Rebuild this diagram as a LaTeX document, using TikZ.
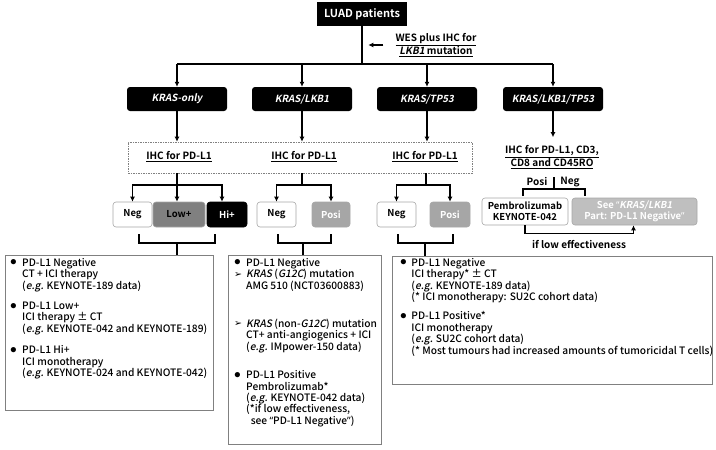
\documentclass[tikz,border=0pt]{standalone}
\usepackage{fontspec}
\setmainfont{Noto Sans CJK SC Medium}[
  BoldFont={Noto Sans CJK SC Bold},
  ItalicFont={Noto Sans CJK SC Medium},
  ItalicFeatures={FakeSlant=0.2},
  BoldItalicFont={Noto Sans CJK SC Bold},
  BoldItalicFeatures={FakeSlant=0.2}]
\newfontfamily\symfont{DejaVu Sans}
\newfontfamily\quotefont{Noto Sans}
\usetikzlibrary{arrows.meta}

\newcommand{\bul}[1][12pt]{\makebox[#1][l]{\raisebox{0.3pt}{\scalebox{1.35}{$\bullet$}}}}
\newcommand{\arw}[1][12pt]{\makebox[#1][l]{\raisebox{0.5pt}{\symfont\fontsize{9.5}{9.5}\selectfont ➢}}}
\newcommand{\ind}[1][12pt]{\hspace*{#1}}
\newcommand{\oq}{{\quotefont “}}
\newcommand{\cq}{{\quotefont ”}}

\begin{document}
\begin{tikzpicture}[x=1pt, y=-1pt,
  line/.style={line width=1.5pt},
  arr/.style={line, -{Latex[length=5pt,width=5pt]}},
  labtxt/.style={font=\bfseries\fontsize{10}{12.5}\selectfont, inner sep=1pt},
  bodytxt/.style={font=\fontsize{10.2}{11.4}\selectfont, align=left, inner sep=0pt, anchor=north west},
  topbox/.style={fill=black, text=white, font=\bfseries\fontsize{11}{12}\selectfont,
    minimum width=90pt, minimum height=24pt, inner sep=0pt},
  catbox/.style={fill=black, text=white, rounded corners=3pt, font=\bfseries\itshape\fontsize{9.8}{11}\selectfont,
    minimum width=100pt, minimum height=24pt, inner sep=0pt},
  smallbox/.style={rounded corners=3pt, draw=gray!70, line width=0.6pt, font=\bfseries\fontsize{9.5}{11}\selectfont,
    minimum height=25pt, inner sep=0pt},
  negbox/.style={smallbox, fill=white},
  lowbox/.style={smallbox, fill=gray, text=black},
  hibox/.style={smallbox, fill=black, draw=black, text=white},
  posibox/.style={smallbox, fill=gray!70, text=white},
  seebox/.style={smallbox, fill=gray!50, text=white, align=center},
  dashbox/.style={draw=gray, dash pattern=on 1.5pt off 1pt, line width=0.6pt, inner sep=0pt},
  resbox/.style={draw=gray, line width=0.8pt, inner sep=0pt, anchor=north west}
]
\useasboundingbox (0,0) rectangle (716,450);

% top of the tree
\node (luad) [topbox] at (362,14) {LUAD patients};
\coordinate (split) at (362,64);
\draw[line] (luad) -- (split);
\node (wes) [labtxt, align=center] at (436,45) {\underline{WES plus IHC for}\\\underline{\textit{LKB1} mutation}};
\draw[arr] ([xshift=-11pt]wes.west) -- ([xshift=-26pt]wes.west);

% genotype groups
\node (kras) [catbox] at (177,99) {KRAS-only};
\node (klkb) [catbox] at (302,99) {KRAS/LKB1};
\node (ktp) [catbox] at (427,99) {KRAS/TP53};
\node (kall) [catbox] at (553,99) {KRAS/LKB1/TP53};
\draw[line] (kras.north |- split) -- (kall.north |- split);
\foreach \n in {kras,klkb,ktp,kall}
  \draw[arr] (\n.north |- split) -- (\n.north);

% IHC for PD-L1
\node (ihcbox) [dashbox, minimum width=344pt, minimum height=31pt] at (300,157.5) {};
\node (ihc1) [labtxt] at (179,157) {\underline{IHC for PD-L1}};
\node (ihc2) [labtxt] at (304,157) {\underline{IHC for PD-L1}};
\node (ihc3) [labtxt] at (425,157) {\underline{IHC for PD-L1}};
\foreach \n in {kras,klkb,ktp}
  \draw[arr] (\n.south) -- (\n.south |- ihcbox.north);

% KRAS-only
\node (neg1) [negbox, minimum width=39pt] at (132.5,214.5) {Neg};
\node (low1) [lowbox, minimum width=52pt] at (179,214.5) {Low+};
\node (hi1) [hibox, minimum width=40pt] at (227,214.5) {Hi+};
\coordinate (sp1) at (177,185);
\draw[line] (sp1 |- ihcbox.south) -- (sp1);
\draw[arr] (sp1) -| (neg1.north);
\draw[arr] (sp1) -- (sp1 |- low1.north);
\draw[arr] (sp1) -| ([xshift=-5pt]hi1.north);

% KRAS/LKB1
\node (neg2) [negbox, minimum width=39pt] at (276.5,214.5) {Neg};
\node (pos2) [posibox, minimum width=38pt] at (331,214.5) {Posi};
\coordinate (sp2) at (302,185);
\draw[line] (sp2 |- ihcbox.south) -- (sp2);
\draw[arr] (sp2) -| (neg2.north);
\draw[arr] (sp2) -| (pos2.north);

% KRAS/TP53
\node (neg3) [negbox, minimum width=39pt] at (396.5,214.5) {Neg};
\node (pos3) [posibox, minimum width=40pt] at (450,214.5) {Posi};
\coordinate (sp3) at (426,185);
\draw[line] (sp3 |- ihcbox.south) -- (sp3);
\draw[arr] (sp3) -| (neg3.north);
\draw[arr] (sp3) -| (pos3.north);

% KRAS/LKB1/TP53
\node (ihc4) [labtxt, align=center] at (552,157) {\underline{IHC for PD-L1, CD3,}\\\underline{CD8 and CD45RO}};
\draw[arr] (kall.south) -- ++(0,26);
\node (posi4) [labtxt] at (537,182) {Posi};
\node (neg4) [labtxt] at (570,182) {Neg};
\coordinate (br4) at (554,189);
\draw[line] (br4) -- ++(0,-12);
\draw[line] ([xshift=-31pt,yshift=-7pt]br4) -- ([xshift=-31pt]br4) -- ([xshift=31pt]br4) -- ([xshift=31pt,yshift=-7pt]br4);
\node (pemb) [negbox, minimum width=86pt, minimum height=27pt, align=center] at (525,211.5) {Pembrolizumab\\KEYNOTE-042};
\node (seeb) [seebox, minimum width=125pt, minimum height=27pt] at (634.5,211.5) {See \oq\textit{KRAS/LKB1}\\Part: PD-L1 Negative\cq};
\draw[arr] (pemb.south) -- ++(0,8) -| ([xshift=-1pt]seeb.south);
\node (lowe) [labtxt] at (579,245) {if low effectiveness};

% brackets to the result boxes
\coordinate (br1) at (177,243);
\coordinate (br2) at (303,243);
\coordinate (br3) at (425,243);
\draw[line] ([xshift=-38pt,yshift=9pt]br1) -- ([xshift=-38pt]br1) -- ([xshift=38pt]br1) -- ([xshift=38pt,yshift=9pt]br1);
\draw[line] ([xshift=-25pt,yshift=9pt]br2) -- ([xshift=-25pt]br2) -- ([xshift=28pt]br2) -- ([xshift=28pt,yshift=9pt]br2);
\draw[line] ([xshift=-27pt,yshift=9pt]br3) -- ([xshift=-27pt]br3) -- ([xshift=28pt]br3) -- ([xshift=28pt,yshift=9pt]br3);

% result boxes
\node (res1) [resbox, minimum width=208pt, minimum height=155pt] at (5,255) {};
\node (res2) [resbox, minimum width=153pt, minimum height=189pt] at (228,255) {};
\node (res3) [resbox, minimum width=320pt, minimum height=128pt] at (392,256) {};
\draw[line] (br1) -- (br1 |- res1.north);
\draw[line] (br2) -- (br2 |- res2.north);
\draw[line] (br3) -- (br3 |- res3.north);

\node (txt1) [bodytxt] at (10,258) {%
\bul PD-L1 Negative\\
\ind CT + ICI therapy\\
\ind (\textit{e.g.} KEYNOTE-189 data)\\[9pt]
\bul PD-L1 Low+\\
\ind ICI therapy ± CT\\
\ind (\textit{e.g.} KEYNOTE-042 and KEYNOTE-189)\\[10pt]
\bul PD-L1 Hi+\\
\ind ICI monotherapy\\
\ind (\textit{e.g.} KEYNOTE-024 and KEYNOTE-042)};

\node (txt2) [bodytxt] at (234,258) {%
\bul PD-L1 Negative\\
\arw \textit{KRAS} (\textit{G12C}) mutation\\
\ind AMG 510 (NCT03600883)\\[27pt]
\arw \textit{KRAS} (non-\textit{G12C}) mutation\\
\ind CT+ anti-angiogenics + ICI\\
\ind (\textit{e.g.} IMpower-150 data)\\[17pt]
\bul PD-L1 Positive\\
\ind Pembrolizumab*\\
\ind (\textit{e.g.} KEYNOTE-042 data)\\
\ind (*if low effectiveness,\\
\ind\ \ see \oq PD-L1 Negative\cq)};

\node (txt3) [bodytxt] at (400,258) {%
\bul[9pt] PD-L1 Negative\\
\ind[9pt] ICI therapy* ± CT\\
\ind[9pt] (\textit{e.g.} KEYNOTE-189 data)\\
\ind[9pt] (* ICI monotherapy: SU2C cohort data)\\[8pt]
\bul[9pt] PD-L1 Positive*\\
\ind[9pt] ICI monotherapy\\
\ind[9pt] (\textit{e.g.} SU2C cohort data)\\
\ind[9pt] (* Most tumours had increased amounts of tumoricidal T cells)};

\end{tikzpicture}
\end{document}
